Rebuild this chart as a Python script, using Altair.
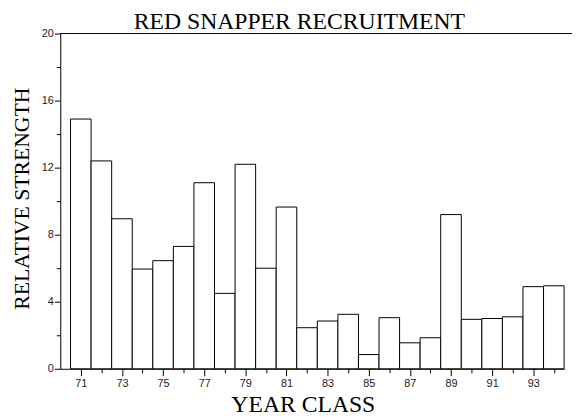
import altair as alt
import pandas as pd

years = list(range(71, 95))
strength = [14.9, 12.4, 8.95, 5.95, 6.45, 7.3, 11.1, 4.5, 12.2, 6.0, 9.65, 2.45,
            2.85, 3.25, 0.85, 3.05, 1.55, 1.85, 9.2, 2.95, 3.0, 3.1, 4.9, 4.95]
x_ticks = list(range(71, 95))
y_ticks = list(range(0, 21, 2))
title_text = "RED SNAPPER RECRUITMENT"
x_title = "YEAR CLASS"
y_title = "RELATIVE STRENGTH"

df = pd.DataFrame({"year": years, "strength": strength})

W, H = 511, 340

xscale = alt.Scale(domain=[70, 94.5], nice=False, zero=False)
yscale = alt.Scale(domain=[0, 20], nice=False)

xaxis = alt.Axis(
    values=x_ticks,
    labelExpr="datum.value % 2 == 1 ? datum.label : ''",
    tickSize={"condition": {"test": "datum.value % 2 == 1", "value": 7}, "value": 4},
    grid=False, domainColor="#000", tickColor="#000",
    labelFont="Liberation Sans", labelFontSize=11, labelColor="#222", labelPadding=2,
    title=x_title, titleFont="Liberation Serif", titleFontSize=24, titleFontWeight="normal",
    titleColor="#000", titleX=246, titleY=43, titleAlign="center", titleBaseline="alphabetic",
)
yaxis = alt.Axis(
    values=y_ticks,
    labelExpr="datum.value % 4 == 0 ? datum.label : ''",
    tickSize={"condition": {"test": "datum.value % 4 == 0", "value": 6}, "value": 4},
    grid=False, domainColor="#000", tickColor="#000",
    labelFont="Liberation Sans", labelFontSize=11, labelColor="#222", labelPadding=1,
    title=y_title, titleFont="Liberation Serif", titleFontSize=22, titleFontWeight="normal",
    titleColor="#000", titleX=-39, titleY=167, titleAngle=270, titleAlign="center",
    titleBaseline="middle",
)

bars = alt.Chart(df).transform_calculate(
    lo="datum.year - 0.5", hi="datum.year + 0.5"
).mark_rect(fill="white", stroke="black", strokeWidth=1).encode(
    x=alt.X("lo:Q", scale=xscale, axis=xaxis),
    x2="hi:Q",
    y=alt.Y("strength:Q", scale=yscale, axis=yaxis),
    y2=alt.datum(0),
)

top_line = alt.Chart(pd.DataFrame({"a": [0]})).mark_rule(color="black", strokeWidth=1).encode(
    x=alt.value(0), x2=alt.value(520), y=alt.value(0)
)

title = alt.Chart(pd.DataFrame({"t": [title_text]})).mark_text(
    font="Liberation Serif", fontSize=24, color="black", align="center", baseline="alphabetic"
).encode(text="t:N", x=alt.value(242.5), y=alt.value(-5))

chart = alt.layer(bars, top_line, title).properties(
    width=W, height=H,
    autosize=alt.AutoSizeParams(type="none"),
    padding={"left": 53, "top": 23, "right": 8, "bottom": 46},
).configure_view(stroke=None)

chart.save("out.html", embed_options={"renderer": "svg", "actions": False})
